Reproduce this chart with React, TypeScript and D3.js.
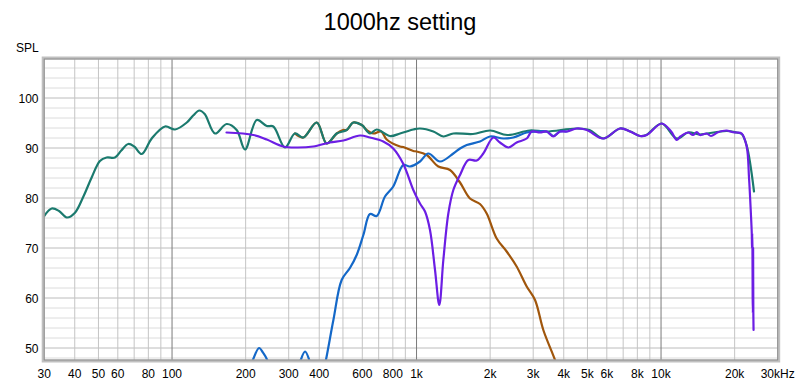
import React from 'react';
import * as d3 from 'd3';

type Pt = [number, number];

// frequency (Hz), SPL (dB)
const sumCurve: Pt[] = [
  [30, 76.4], [32.2, 77.9], [34.5, 77.4], [37.1, 76.1], [40, 77.0], [43.4, 80.3], [47, 84.2],
  [50.7, 87.4], [54, 88.1], [58.4, 88.1], [62, 89.5], [66.2, 90.8], [70, 90.3], [75.2, 88.8],
  [82.6, 91.9], [93.6, 94.3], [102.9, 93.7], [114.9, 95.1], [122, 96.5], [129.3, 97.5],
  [136, 96.8], [149.9, 92.9], [167.2, 94.8], [183.8, 93.6], [198.8, 89.7], [222, 95.6],
  [244, 94.4], [259.6, 94.3], [289.7, 90.1], [318, 92.9], [344, 92.1], [390.6, 95.1],
  [429, 90.9], [471.5, 92.9], [518, 93.6], [551, 95.1], [597, 94.6], [645, 92.9], [687, 93.7],
  [779, 92.4], [856, 92.9], [970, 93.7], [1033, 93.9], [1171, 93.3], [1287, 92.3], [1414, 92.9],
  [1700, 92.8], [2000, 93.5], [2350, 92.6], [2900, 93.5], [3400, 93.3], [4500, 93.9],
  [5100, 93.6], [5800, 91.9], [6800, 93.9], [7500, 93.3], [8200, 92.4], [8700, 92.6],
  [10060, 94.9], [11590, 91.9], [12900, 93.1], [14400, 92.7], [15400, 92.9], [18560, 93.4],
  [20390, 93.1], [21370, 92.8], [22400, 90.5], [24000, 81.3],
];

const wooferCurve: Pt[] = [
  [318, 92.9], [344, 92.1], [390.6, 95.1], [429, 90.9], [471.5, 92.9], [500, 93.6], [518, 93.6],
  [551, 95.1], [597, 94.6],
  [625, 93.6], [665, 92.9], [716, 93.3], [755, 91.7], [856, 90.3], [883, 90.2], [970, 89.4],
  [1001, 89.3], [1100, 88.6], [1228, 86.3], [1370, 85.6], [1506, 83.1], [1654, 79.9],
  [1817, 78.8], [1936, 76.9], [2127, 71.9], [2337, 69.3], [2567, 66.3], [2822, 62.3],
  [3052, 59.6], [3300, 53.6], [3684, 47.6], [3900, 44],
];

const tweeterCurve: Pt[] = [
  [200, 44], [214, 47.6], [227, 50], [236, 49], [245, 47.6], [255, 44],
  [322, 44], [336, 47.6], [350, 49.3], [364, 47.6], [378, 44],
  [410, 44], [426, 47.6], [457, 55.6], [494, 63.6], [534, 66], [569, 68.6], [606, 72.6],
  [645, 76.8], [687, 76.4], [743, 80.3], [803, 82.3], [883, 86.6], [940, 86.3], [1033, 87.3],
  [1117, 88.9], [1247, 87.3], [1414, 88.9], [1506, 89.9], [1604, 90.6], [1817, 91.3],
  [1997, 92.3], [2264, 91.9], [2488, 92.1], [2822, 93.1], [3099, 93.3], [3408, 93.3],
  [3625, 92.4], [3862, 93.3], [4113, 93.3],
];

const measuredCurve: Pt[] = [
  [167, 93.1], [215, 92.6], [244, 91.7], [285, 90.3], [323, 90.1], [378, 90.3], [442, 91.1],
  [502, 91.5], [587, 92.5], [645, 92.1], [731, 91.3], [803, 89.9], [883, 86.8], [970, 81.6],
  [1033, 78.9], [1083, 77.3], [1135, 73.6], [1190, 65.6], [1239, 58.6], [1287, 67.6],
  [1349, 76.9], [1414, 81.6], [1506, 84.6], [1629, 87.6], [1761, 87.5], [1875, 88.9],
  [2061, 92.1], [2194, 91.1], [2373, 90.1], [2567, 91.1], [2822, 91.9], [2958, 93.3],
  [3199, 93.1], [3408, 93.3], [3625, 92.3], [3862, 93.3], [4113, 93.3], [4521, 93.9],
  [4966, 93.6], [5806, 91.9], [6796, 93.9], [7467, 93.3], [8205, 92.4], [8737, 92.6],
  [10062, 94.9], [11000, 93.3], [11590, 91.6], [12000, 92.3], [12928, 93.1], [13500, 92.6],
  [14000, 93.2], [14437, 92.6], [15376, 92.9], [16000, 92.4], [17000, 93.1], [17800, 93.4],
  [18558, 93.5], [19500, 93.2], [20390, 93.1], [21372, 92.9], [22400, 90.3], [22900, 84],
  [23300, 77], [23500, 72.9], [23550, 70], [23600, 73], [23650, 70.3], [23700, 60],
  [23750, 57], [23800, 70], [23850, 57], [23900, 53.6],
];

const xTicks = [30, 40, 50, 60, 80, 100, 200, 300, 400, 600, 800, 1000, 2000, 3000, 4000, 5000, 6000, 8000, 10000, 20000, 30000];
const xTickLabels = ['30', '40', '50', '60', '80', '100', '200', '300', '400', '600', '800', '1k', '2k', '3k', '4k', '5k', '6k', '8k', '10k', '20k', '30kHz'];
const yTicks = [50, 60, 70, 80, 90, 100];

const W = 800;
const H = 384;
const left = 44.2;
const right = 777.7;
const top = 59;
const bottom = 360;

const App: React.FC = () => {
  const x = d3.scaleLog().domain([30, 30000]).range([left, right]);
  const y = d3.scaleLinear().domain([47.6, 107.8]).range([bottom, top]);

  const line = d3.line<Pt>()
    .x(d => x(d[0]))
    .y(d => y(d[1]))
    .curve(d3.curveCatmullRom.alpha(0.5));

  // minor vertical grid: every 1..9 in each decade
  const vGrid: number[] = [];
  for (const dec of [10, 100, 1000, 10000]) {
    for (let k = 1; k < 10; k++) {
      const f = dec * k;
      if (f > 30 && f < 30000) vGrid.push(f);
    }
  }
  const hGrid = d3.range(48, 108, 2);

  const font = '"Liberation Sans", Arial, sans-serif';

  const series: { data: Pt[]; color: string }[] = [
    { data: wooferCurve, color: '#a0560c' },
    { data: sumCurve, color: '#1b7a6e' },
    { data: tweeterCurve, color: '#1468c8' },
    { data: measuredCurve, color: '#6c1ee4' },
  ];

  return (
    <svg width={W} height={H} style={{ position: 'absolute', left: 0, top: 0, background: '#fff' }}>
      <defs>
        <clipPath id="plotClip">
          <rect x={left} y={top} width={right - left} height={bottom - top} />
        </clipPath>
      </defs>
      <text x={400} y={30} textAnchor="middle" fontFamily={font} fontSize={23.5} fill="#000">1000hz setting</text>
      <text x={16} y={52} fontFamily={font} fontSize={12} fill="#000">SPL</text>

      {hGrid.map(v => (
        <line key={'h' + v} x1={left} x2={right} y1={y(v)} y2={y(v)}
          stroke={v % 10 === 0 ? '#bcbcbc' : '#dcdcdc'} strokeWidth={1} />
      ))}
      {vGrid.map(f => {
        const major = [100, 1000, 10000].includes(f);
        return (
          <line key={'v' + f} x1={x(f)} x2={x(f)} y1={top} y2={bottom}
            stroke={major ? '#7a7a7a' : '#c4c4c4'} strokeWidth={1} />
        );
      })}

      <g clipPath="url(#plotClip)">
        {series.map((s, i) => (
          <path key={i} d={line(s.data) ?? ''} fill="none" stroke={s.color} strokeWidth={2.2}
            strokeLinejoin="round" strokeLinecap="round" />
        ))}
      </g>

      <rect x={left - 1} y={top - 1} width={right - left + 2} height={bottom - top + 2}
        fill="none" stroke="#c0c0c0" strokeWidth={3} />
      <rect x={left} y={top} width={right - left} height={bottom - top}
        fill="none" stroke="#8c8c8c" strokeWidth={1} />

      {yTicks.map(v => (
        <text key={'yl' + v} x={38.5} y={y(v) + 4.5} textAnchor="end" fontFamily={font} fontSize={12} fill="#000">{v}</text>
      ))}
      {xTicks.map((f, i) => (
        <text key={'xl' + f} x={x(f)} y={378} textAnchor="middle" fontFamily={font} fontSize={12} fill="#000">{xTickLabels[i]}</text>
      ))}
    </svg>
  );
};

export default App;
